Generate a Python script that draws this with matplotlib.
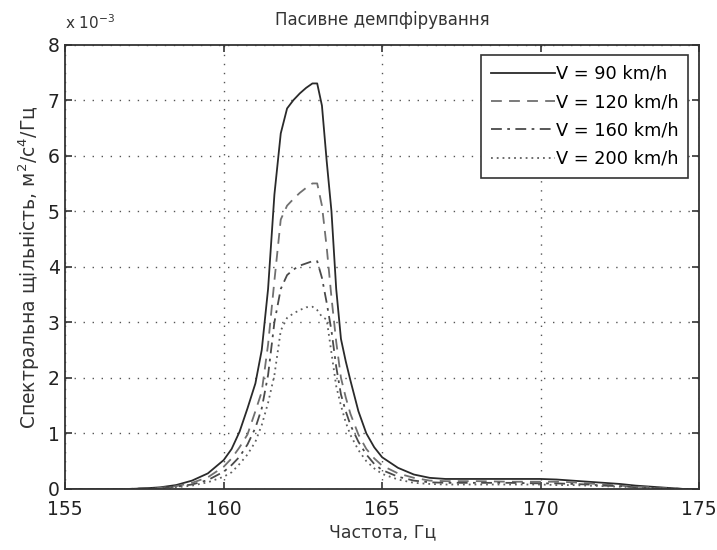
import matplotlib
matplotlib.use("Agg")
import matplotlib.pyplot as plt

plt.rcParams['font.family'] = ['DejaVu Sans']
plt.rcParams['mathtext.fontset'] = 'dejavusans'

# frequency grid, Hz
freq = [155, 157, 157.5, 158, 158.5, 159, 159.5, 160, 160.25, 160.5, 160.75, 161,
        161.2, 161.4, 161.6, 161.8, 162, 162.2, 162.4, 162.6, 162.8, 162.95, 163.1,
        163.25, 163.4, 163.55, 163.7, 163.85, 164, 164.25, 164.5, 164.75, 165, 165.5,
        166, 166.5, 167, 168, 169, 170, 170.5, 171, 171.5, 172, 172.5, 173, 173.5,
        174, 174.5, 175]

# spectral density, x 1e-3
psd_90 = [0, 0, 0.01, 0.03, 0.07, 0.15, 0.28, 0.52, 0.72, 1.03, 1.45, 1.9,
          2.5, 3.6, 5.3, 6.4, 6.85, 7.0, 7.12, 7.22, 7.3, 7.3, 6.9,
          5.9, 5.0, 3.6, 2.7, 2.3, 1.95, 1.4, 1.0, 0.75, 0.57, 0.38,
          0.26, 0.2, 0.18, 0.18, 0.18, 0.18, 0.17, 0.15, 0.13, 0.11, 0.09, 0.06, 0.04,
          0.02, 0, 0]
psd_120 = [0, 0, 0.01, 0.02, 0.05, 0.11, 0.21, 0.4, 0.55, 0.75, 0.98, 1.4,
           1.75, 2.6, 3.75, 4.85, 5.1, 5.22, 5.33, 5.42, 5.5, 5.5, 5.1,
           4.35, 3.45, 2.65, 2.0, 1.65, 1.35, 0.98, 0.72, 0.55, 0.42, 0.28,
           0.2, 0.15, 0.14, 0.14, 0.13, 0.13, 0.13, 0.12, 0.1, 0.08, 0.06, 0.04, 0.03,
           0.01, 0, 0]
psd_160 = [0, 0, 0.01, 0.02, 0.04, 0.08, 0.16, 0.31, 0.43, 0.58, 0.8, 1.1,
           1.45, 2.05, 3.0, 3.6, 3.85, 3.95, 4.02, 4.06, 4.1, 4.1, 3.8,
           3.35, 2.85, 2.2, 1.7, 1.4, 1.15, 0.85, 0.62, 0.45, 0.34, 0.22,
           0.15, 0.12, 0.11, 0.11, 0.11, 0.1, 0.1, 0.09, 0.08, 0.06, 0.05, 0.03, 0.02,
           0.01, 0, 0]
psd_200 = [0, 0, 0, 0.01, 0.03, 0.06, 0.12, 0.22, 0.3, 0.45, 0.62, 0.85,
           1.15, 1.55, 2.05, 2.85, 3.08, 3.16, 3.22, 3.27, 3.28, 3.22, 3.1,
           3.05, 2.45, 1.85, 1.5, 1.2, 0.97, 0.7, 0.5, 0.37, 0.27, 0.17,
           0.11, 0.09, 0.08, 0.08, 0.08, 0.08, 0.07, 0.07, 0.06, 0.05, 0.04, 0.03, 0.02,
           0.01, 0, 0]

labels = ['V = 90 km/h', 'V = 120 km/h', 'V = 160 km/h', 'V = 200 km/h']
styles = [('-', '#2a2a2a'), ((0, (6, 4)), '#707070'), ((0, (6, 3, 1.5, 3)), '#4a4a4a'),
          ((0, (1, 2.2)), '#606060')]

fig = plt.figure(figsize=(7.17, 5.5), dpi=100)
ax = fig.add_axes([0.091, 0.111, 0.884, 0.808])

for ys, lab, (ls, col) in zip([psd_90, psd_120, psd_160, psd_200], labels, styles):
    ax.plot(freq, ys, linestyle=ls, color=col, linewidth=1.3, label=lab)

ax.set_xlim(155, 175)
ax.set_ylim(0, 8)
ax.set_xticks([155, 160, 165, 170, 175])
ax.set_yticks(range(0, 9))
ax.tick_params(direction='in', labelsize=13.5, length=5, width=1.2, top=True, right=True,
               colors='#333333', labelcolor='#222222')
ax.tick_params(axis='x', pad=8)
ax.tick_params(axis='y', pad=4)
for s in ax.spines.values():
    s.set_color('#333333')
    s.set_linewidth(1.3)
ax.grid(True, linestyle=(0, (1, 5.5)), color='#555555', linewidth=1.0)

# MATLAB-style exponent label above the y axis
ax.text(0.0, 1.028, 'x 10$^{-3}$', transform=ax.transAxes, fontsize=11, color='#333333',
        ha='left', va='bottom')
ax.set_title('Пасивне демпфірування', fontsize=12, color='#333333', pad=14)
ax.set_xlabel('Частота, Гц', fontsize=12.5, color='#333333', labelpad=3)
ax.set_ylabel('Спектральна щільність, м$^2$/с$^4$/Гц', fontsize=13.5, color='#333333', labelpad=4)

leg = ax.legend(loc='upper right', fontsize=12.8, handlelength=3.6, handletextpad=0.05,
                labelspacing=0.58, borderaxespad=0.6, fancybox=False, framealpha=1,
                edgecolor='#333333', borderpad=0.55)
leg.get_frame().set_linewidth(1.2)

fig.savefig('out.png', dpi=100)
